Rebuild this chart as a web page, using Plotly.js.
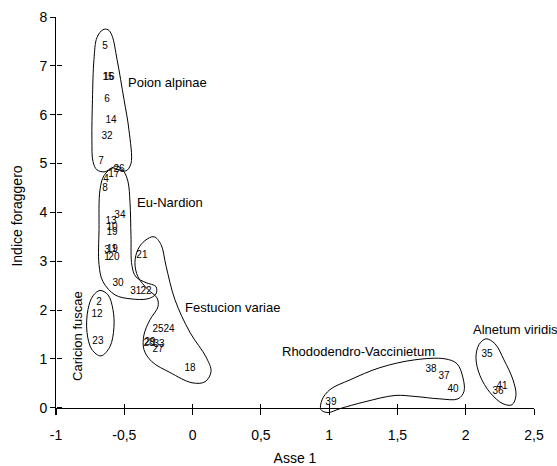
<!DOCTYPE html>
<html>
<head>
<meta charset="utf-8">
<script src="https://cdn.plot.ly/plotly-3.0.1.min.js"></script>
<style>html,body{margin:0;padding:0;background:#fff;}#chart{width:557px;height:466px;}</style>
</head>
<body>
<div id="chart"></div>
<script>
// ---- point labels (relevé numbers) ----
const ptLabels = ['5','15','16','6','14','32','7','26','17','4','8','34','13','10','19','3','11','9','1','20','21','30','31','22','2','12','23','25','24','28','29','33','27','18','39','38','37','40','35','41','36'];
const ptX = [-0.641,-0.619,-0.612,-0.627,-0.597,-0.627,-0.671,-0.539,-0.576,-0.634,-0.641,-0.532,-0.597,-0.590,-0.590,-0.627,-0.590,-0.568,-0.627,-0.576,-0.371,-0.546,-0.415,-0.341,-0.685,-0.700,-0.693,-0.253,-0.173,-0.319,-0.312,-0.246,-0.253,-0.019,1.013,1.746,1.841,1.907,2.156,2.266,2.236];
const ptY = [7.39,6.76,6.76,6.31,5.88,5.55,5.04,4.87,4.77,4.67,4.48,3.93,3.81,3.69,3.58,3.22,3.24,3.24,3.07,3.07,3.11,2.54,2.38,2.38,2.15,1.90,1.35,1.60,1.60,1.31,1.33,1.29,1.19,0.80,0.10,0.78,0.63,0.37,1.09,0.43,0.33];

// ---- group outlines (data units) ----
const poionX = [-0.656,-0.700,-0.722,-0.733,-0.737,-0.729,-0.700,-0.641,-0.590,-0.539,-0.487,-0.451,-0.466,-0.502,-0.553,-0.590,-0.619];
const poionY = [7.74,7.58,7.13,6.31,5.49,5.04,4.87,4.83,4.91,4.87,4.85,5.00,5.69,6.31,7.13,7.62,7.74];
const nardX = [-0.583,-0.649,-0.678,-0.685,-0.685,-0.656,-0.568,-0.458,-0.327,-0.268,-0.268,-0.341,-0.415,-0.444,-0.451,-0.458,-0.473,-0.502,-0.546];
const nardY = [4.92,4.75,4.46,3.65,2.93,2.58,2.31,2.23,2.23,2.33,2.48,2.56,2.68,2.91,3.52,4.20,4.63,4.83,4.94];
const festX = [-0.283,-0.349,-0.400,-0.422,-0.400,-0.327,-0.261,-0.253,-0.312,-0.356,-0.356,-0.297,-0.165,-0.004,0.091,0.135,0.098,-0.019,-0.129,-0.195,-0.231];
const festY = [3.50,3.42,3.24,2.97,2.68,2.42,2.25,2.07,1.80,1.49,1.19,0.94,0.72,0.51,0.53,0.74,1.04,1.54,2.21,2.91,3.34];
const caricX = [-0.678,-0.619,-0.583,-0.576,-0.605,-0.671,-0.737,-0.773,-0.766,-0.729];
const caricY = [2.40,2.31,2.01,1.64,1.25,1.06,1.19,1.54,2.01,2.29];
const rhodoX = [0.948,1.006,1.153,1.372,1.628,1.848,1.936,1.980,1.987,1.943,1.811,1.628,1.482,1.262,1.079,0.991,0.940];
const rhodoY = [0.16,0.37,0.57,0.82,0.98,1.00,0.90,0.61,0.33,0.18,0.18,0.23,0.25,0.12,-0.02,-0.10,-0.04];
const alnX = [2.148,2.097,2.075,2.104,2.178,2.273,2.339,2.368,2.346,2.280,2.214];
const alnY = [1.41,1.29,1.02,0.66,0.31,0.08,0.06,0.25,0.57,0.98,1.31];

// ---- group names ----
const groupNames = ['Poion alpinae','Eu-Nardion','Festucion variae','Rhododendro-Vaccinietum','Alnetum viridis','Caricion fuscae'];
const groupX = [-0.184,-0.165,0.294,1.215,2.361,-0.839];
const groupY = [6.66,4.20,2.05,1.15,1.60,1.47];
const groupAngle = [0,0,0,0,0,-90];

// ---- ticks ----
const xTickVals = [-1,-0.5,0,0.5,1,1.5,2,2.5];
const xTickText = ['-1','-0,5','0','0,5','1','1,5','2','2,5'];
const yTickVals = [0,1,2,3,4,5,6,7,8];
const yTickText = ['0','1','2','3','4','5','6','7','8'];

const xRange = [-1, 2.5];
const yRange = [-0.15, 8];
const xAxisPos = (0 - yRange[0]) / (yRange[1] - yRange[0]);

function closed(a){ return a.concat([a[0]]); }
function outline(xs, ys){
  return {x: closed(xs), y: closed(ys), type:'scatter', mode:'lines',
    line:{color:'#000', width:1, shape:'spline', smoothing:1}, hoverinfo:'skip', showlegend:false};
}

const FONT = 'Liberation Sans, Arial, Helvetica, sans-serif';

const traces = [
  outline(poionX, poionY),
  outline(nardX, nardY),
  outline(festX, festY),
  outline(caricX, caricY),
  outline(rhodoX, rhodoY),
  outline(alnX, alnY),
  {x: ptX, y: ptY, text: ptLabels, type:'scatter', mode:'text', textposition:'middle center',
   textfont:{family:FONT, size:10, color:'#000'}, cliponaxis:false, showlegend:false, hoverinfo:'skip'},
  {x: [], y: [], type:'scatter', mode:'markers', xaxis:'x2', yaxis:'y2', showlegend:false, hoverinfo:'skip'}
];

const annotations = groupNames.map((t,i)=>({
  x: groupX[i], y: groupY[i], xref:'x', yref:'y', text: t, showarrow:false,
  textangle: groupAngle[i], font:{family:FONT, size:13, color:'#000'},
  xanchor:'center', yanchor:'middle'
}));

const layout = {
  width: 557, height: 466,
  margin: {l:56, r:23, t:17, b:51, pad:0},
  paper_bgcolor:'#fff', plot_bgcolor:'#fff',
  font:{family:FONT, color:'#000'},
  showlegend:false,
  xaxis: {
    range: xRange, anchor:'free', position: xAxisPos,
    tickvals: xTickVals, ticktext: xTickText,
    ticks:'outside', ticklen:6, tickwidth:1, tickcolor:'#000',
    showline:true, linecolor:'#000', linewidth:1,
    showgrid:false, zeroline:false,
    tickfont:{family:FONT, size:14, color:'#000'},
    ticklabelstandoff: 9,
    title:{text:'Asse 1', font:{family:FONT, size:14, color:'#000'}, standoff:10}
  },
  yaxis: {
    range: yRange,
    tickvals: yTickVals, ticktext: yTickText,
    ticks:'outside', ticklen:5, tickwidth:1, tickcolor:'#000',
    showline:true, linecolor:'#000', linewidth:1,
    showgrid:false, zeroline:false,
    tickfont:{family:FONT, size:14, color:'#000'},
    title:{text:'Indice foraggero', font:{family:FONT, size:14, color:'#000'}, standoff:13}
  },
  xaxis2: {
    range: xRange, overlaying:'x', anchor:'free', position: xAxisPos,
    tickvals: xTickVals, ticks:'inside', ticklen:4, tickwidth:1, tickcolor:'#000',
    showticklabels:false, showline:false, showgrid:false, zeroline:false
  },
  yaxis2: {
    range: yRange, overlaying:'y', anchor:'free', position: 0, side:'left',
    tickvals: yTickVals, ticks:'inside', ticklen:5, tickwidth:1, tickcolor:'#000',
    showticklabels:false, showline:false, showgrid:false, zeroline:false
  },
  annotations: annotations
};

Plotly.newPlot('chart', traces, layout, {staticPlot:true, displayModeBar:false});
</script>
</body>
</html>
